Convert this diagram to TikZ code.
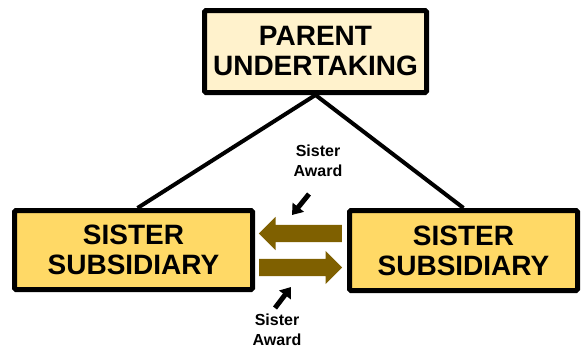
\documentclass[tikz,border=0pt]{standalone}
\usepackage{fontspec}
\setmainfont{Liberation Sans}
\usetikzlibrary{calc,arrows.meta,shapes.arrows,backgrounds}
\definecolor{parentfill}{HTML}{FFF2CC}
\definecolor{sisterfill}{HTML}{FFD966}
\definecolor{awardbrown}{HTML}{7F6000}
\tikzset{
  orgbox/.style={draw=black,line width=5pt,rounded corners=1.5pt,align=center,
    font=\fontsize{28}{30}\selectfont\bfseries,inner sep=0pt},
  awardarrow/.style={single arrow,fill=awardbrown,draw=none,minimum height=83pt,
    inner xsep=0pt,inner ysep=8.5pt,single arrow head extend=8pt,
    single arrow head indent=0pt,anchor=tail},
  awardtext/.style={align=center,font=\fontsize{16}{20}\selectfont\bfseries},
  pointer/.style={-{Triangle[width=14pt,length=10pt]},line width=5pt}
}
\begin{document}
\begin{tikzpicture}[x=1pt,y=-1pt]
        \useasboundingbox (0,0) rectangle (582,349);
        %\draw[red] (0,0) rectangle (582,349);
        \node[orgbox,fill=parentfill,minimum width=222pt,minimum height=82pt] (parent) at (315.5,51.5) {PARENT\\UNDERTAKING};
        \node[orgbox,fill=sisterfill,minimum width=238pt,minimum height=79pt] (sisL) at (133.5,250) {SISTER\\SUBSIDIARY};
        \node[orgbox,fill=sisterfill,minimum width=228pt,minimum height=80pt] (sisR) at (463.5,250.5) {SISTER\\SUBSIDIARY};
        \begin{scope}[on background layer]
        \draw[line width=4pt] ([xshift=4pt]sisL.north) -- (parent.south) -- (sisR.north);
        \end{scope}

        % award arrows
        \node[awardarrow,shape border rotate=180] (awL) at (342,233.5) {};
        \node[awardarrow] (awR) at (259,267.5) {};

        \node[awardtext] (txtT) at (318,161) {Sister\\Award};
        \node[awardtext] (txtB) at (277,330) {Sister\\Award};
        \coordinate (ptT) at (309,194);
        \coordinate (ptB) at (275,308);
        \draw[pointer] (ptT) -- (292,215);
        \draw[pointer] (ptB) -- (291,287);
        \end{tikzpicture}
\end{document}
